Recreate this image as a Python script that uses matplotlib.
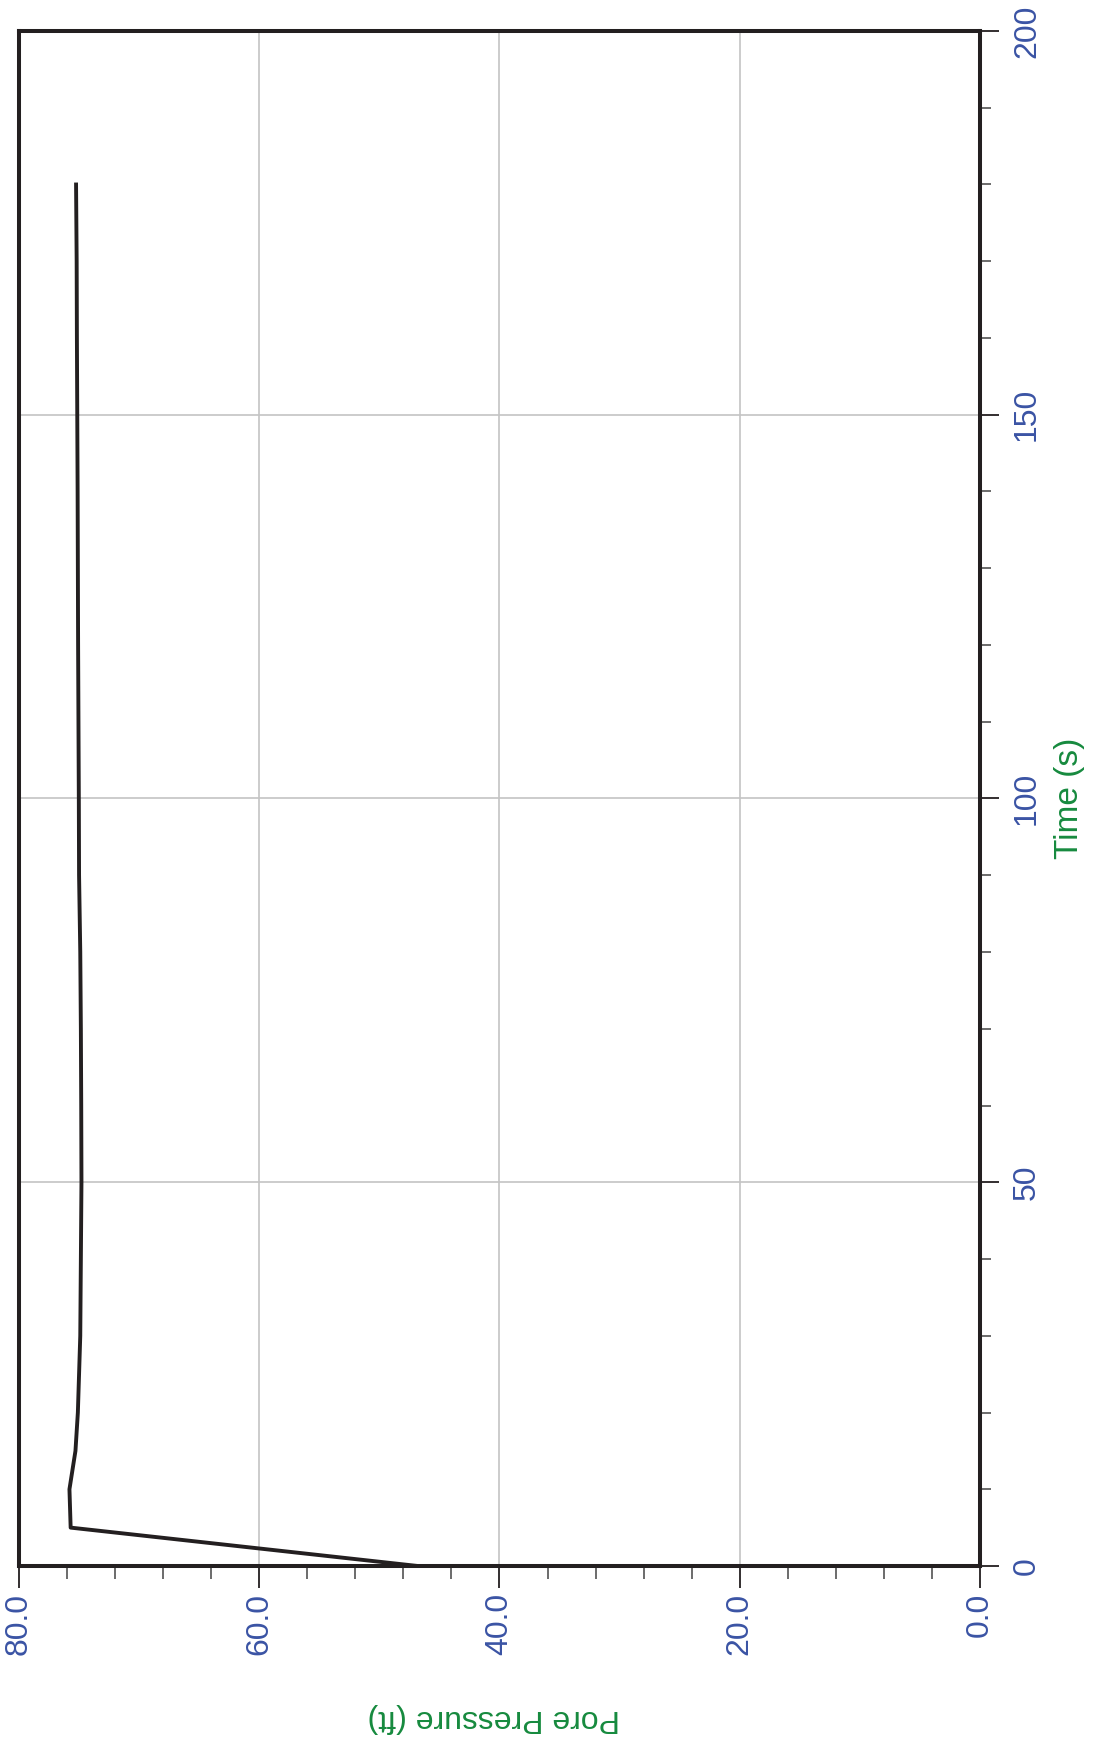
import numpy as np
import matplotlib.pyplot as plt
from matplotlib.ticker import MultipleLocator

# valores
tempo = [0, 5, 10, 15, 20, 30, 40, 50, 60, 70, 80, 90, 100, 110, 120, 130, 140, 150, 160, 170, 180]
pressao = [46.8, 75.7, 75.8, 75.3, 75.1, 74.9, 74.85, 74.8, 74.82, 74.85, 74.9, 75.0,
           75.02, 75.05, 75.08, 75.1, 75.12, 75.15, 75.18, 75.2, 75.25]

azul = '#3a53a4'
verde = '#168a3e'

plt.rcParams['font.family'] = ['Liberation Sans', 'DejaVu Sans']

fig = plt.figure(figsize=(10.95, 17.51), dpi=100)
ax = fig.add_axes([19/1095, 185/1751, 961/1095, 1535/1751])

ax.plot(pressao, tempo, color='#231f20', lw=2.8, zorder=3)

# eixo da pressao invertido (80 a esquerda, 0 a direita)
ax.set_xlim(80, 0)
ax.set_ylim(0, 200)

ax.xaxis.set_major_locator(MultipleLocator(20))
ax.xaxis.set_minor_locator(MultipleLocator(4))
ax.yaxis.set_major_locator(MultipleLocator(50))
ax.yaxis.set_minor_locator(MultipleLocator(10))

ax.grid(True, which='major', color='#c4c4c4', lw=1.2)
ax.set_axisbelow(True)

for s in ax.spines.values():
    s.set_linewidth(2.9)
    s.set_color('#231f20')

ax.yaxis.tick_right()
ax.tick_params(axis='x', which='major', direction='out', length=16, width=1.3,
               color='#231f20', pad=3.5, labelsize=23, labelcolor=azul)
ax.tick_params(axis='x', which='minor', direction='out', length=9, width=1.1,
               color='#444444')
ax.tick_params(axis='y', which='major', direction='out', length=14, width=1.3,
               color='#231f20', pad=9, labelsize=23, labelcolor=azul)
ax.tick_params(axis='y', which='minor', direction='out', length=8, width=1.1,
               color='#444444')

ax.set_xticks([80, 60, 40, 20, 0])
ax.set_xticklabels(['80.0', '60.0', '40.0', '20.0', '0.0'], rotation=90, va='top', ha='center')
ax.set_yticks([0, 50, 100, 150, 200])
ax.set_yticklabels(['0', '50', '100', '150', '200'], rotation=90, va='center', ha='left')

ax.set_xlabel('Pore Pressure (ft)', color=verde, fontsize=23, rotation=180, va='top')
ax.xaxis.set_label_coords(0.494, -0.089)
ax.yaxis.set_label_position('right')
ax.set_ylabel('Time (s)', color=verde, fontsize=24, rotation=90,
              rotation_mode='anchor', ha='center', va='top')
ax.yaxis.set_label_coords(1.077, 0.5)

plt.savefig('out.png', dpi=100)
